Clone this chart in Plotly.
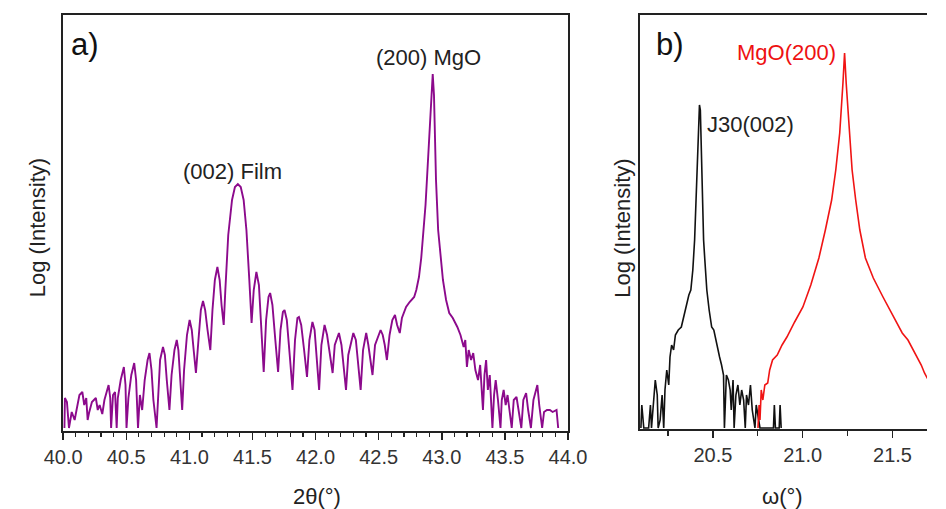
import plotly.graph_objects as go

# ---------------- data ----------------
# panel a) 2theta scan, log intensity in arbitrary units
two_theta = [
    40.010, 40.014, 40.030, 40.046, 40.068, 40.091, 40.106, 40.129, 40.152, 40.167,
    40.183, 40.194, 40.205, 40.228, 40.259, 40.274, 40.289, 40.310, 40.327, 40.346,
    40.360, 40.373, 40.380, 40.395, 40.411, 40.424, 40.433, 40.456, 40.481, 40.494,
    40.502, 40.517, 40.540, 40.563, 40.578, 40.593, 40.608, 40.626, 40.646, 40.669,
    40.684, 40.700, 40.715, 40.740, 40.753, 40.768, 40.791, 40.806, 40.821, 40.842,
    40.859, 40.882, 40.900, 40.913, 40.928, 40.943, 40.958, 40.981, 41.002, 41.019,
    41.034, 41.052, 41.072, 41.091, 41.108, 41.125, 41.144, 41.166, 41.183, 41.202,
    41.222, 41.240, 41.255, 41.272, 41.285, 41.308, 41.338, 41.361, 41.384, 41.407,
    41.430, 41.452, 41.475, 41.493, 41.510, 41.531, 41.551, 41.570, 41.589, 41.608,
    41.627, 41.640, 41.658, 41.681, 41.703, 41.722, 41.741, 41.754, 41.772, 41.795,
    41.817, 41.837, 41.856, 41.868, 41.886, 41.909, 41.932, 41.951, 41.975, 41.992,
    42.011, 42.028, 42.046, 42.071, 42.091, 42.114, 42.135, 42.152, 42.185, 42.205,
    42.224, 42.241, 42.259, 42.299, 42.319, 42.338, 42.357, 42.376, 42.401, 42.418,
    42.433, 42.451, 42.471, 42.515, 42.532, 42.548, 42.565, 42.586, 42.608, 42.629,
    42.646, 42.667, 42.684, 42.717, 42.745, 42.781, 42.798, 42.819, 42.837, 42.857,
    42.871, 42.882, 42.894, 42.905, 42.916, 42.928, 42.938, 42.945, 42.954, 42.971,
    42.989, 43.009, 43.034, 43.059, 43.087, 43.123, 43.148, 43.173, 43.186, 43.199,
    43.213, 43.232, 43.249, 43.266, 43.287, 43.304, 43.326, 43.338, 43.351, 43.365,
    43.380, 43.401, 43.414, 43.427, 43.445, 43.465, 43.475, 43.490, 43.506, 43.521,
    43.536, 43.554, 43.570, 43.592, 43.608, 43.630, 43.646, 43.668, 43.684, 43.706,
    43.726, 43.757, 43.772, 43.795, 43.810, 43.833, 43.856, 43.878, 43.909, 43.922,
]
log_i_film = [
    0.03, 0.33, 0.29, 0.03, 0.19, 0.11, 0.21, 0.36, 0.39, 0.26,
    0.33, 0.11, 0.18, 0.29, 0.33, 0.21, 0.26, 0.17, 0.31, 0.39,
    0.46, 0.33, 0.03, 0.36, 0.39, 0.03, 0.33, 0.51, 0.64, 0.46,
    0.03, 0.33, 0.56, 0.68, 0.51, 0.03, 0.36, 0.21, 0.51, 0.71,
    0.78, 0.61, 0.31, 0.03, 0.41, 0.71, 0.84, 0.76, 0.51, 0.21,
    0.56, 0.81, 0.91, 0.81, 0.51, 0.21, 0.61, 0.96, 1.11, 1.01,
    0.81, 0.58, 0.91, 1.21, 1.30, 1.21, 1.01, 0.81, 1.21, 1.51,
    1.64, 1.51, 1.26, 1.06, 1.41, 1.96, 2.31, 2.44, 2.47, 2.44,
    2.31, 2.01, 1.51, 1.08, 1.41, 1.59, 1.46, 1.01, 0.59, 1.11,
    1.34, 1.38, 1.26, 0.91, 0.59, 1.01, 1.19, 1.21, 1.11, 0.76,
    0.41, 0.91, 1.13, 1.14, 1.06, 0.81, 0.54, 0.91, 1.09, 1.01,
    0.71, 0.41, 0.86, 1.06, 0.96, 0.76, 0.58, 0.86, 0.98, 0.86,
    0.61, 0.41, 0.76, 0.98, 0.91, 0.66, 0.41, 0.81, 0.98, 0.86,
    0.71, 0.56, 0.86, 1.01, 0.96, 0.86, 0.71, 0.96, 1.11, 1.16,
    1.06, 0.98, 1.13, 1.24, 1.29, 1.34, 1.41, 1.54, 1.73, 2.01,
    2.26, 2.51, 2.81, 3.11, 3.36, 3.57, 3.36, 3.01, 2.51, 2.01,
    1.73, 1.51, 1.31, 1.18, 1.13, 1.04, 0.96, 0.84, 0.91, 0.64,
    0.81, 0.71, 0.78, 0.61, 0.51, 0.66, 0.21, 0.56, 0.71, 0.41,
    0.56, 0.03, 0.36, 0.51, 0.31, 0.03, 0.31, 0.41, 0.26, 0.36,
    0.21, 0.03, 0.31, 0.34, 0.21, 0.03, 0.31, 0.38, 0.21, 0.03,
    0.31, 0.46, 0.26, 0.03, 0.19, 0.21, 0.21, 0.19, 0.21, 0.03,
]

# panel b) rocking curves (omega scans)
omega_j30 = [
    20.099, 20.104, 20.115, 20.142, 20.152, 20.158, 20.179, 20.190, 20.195, 20.206,
    20.217, 20.226, 20.233, 20.243, 20.254, 20.261, 20.270, 20.281, 20.291, 20.307,
    20.324, 20.340, 20.356, 20.366, 20.377, 20.388, 20.398, 20.409, 20.420, 20.425,
    20.430, 20.436, 20.441, 20.448, 20.455, 20.466, 20.479, 20.493, 20.505, 20.516,
    20.527, 20.537, 20.548, 20.559, 20.564, 20.575, 20.586, 20.596, 20.602, 20.612,
    20.618, 20.628, 20.639, 20.650, 20.660, 20.671, 20.680, 20.687, 20.698, 20.709,
    20.719, 20.734, 20.741, 20.751, 20.762, 20.837, 20.842, 20.848, 20.869, 20.874,
    20.880,
]
log_i_j30 = [
    0.01, 0.24, 0.01, 0.01, 0.24, 0.01, 0.49, 0.34, 0.01, 0.09,
    0.34, 0.01, 0.39, 0.59, 0.44, 0.72, 0.84, 0.79, 0.94, 0.99,
    1.02, 1.14, 1.24, 1.34, 1.39, 1.59, 1.89, 2.49, 2.99, 3.24,
    3.19, 2.79, 2.29, 1.89, 1.69, 1.39, 1.19, 1.02, 0.99, 0.89,
    0.79, 0.72, 0.64, 0.54, 0.01, 0.54, 0.49, 0.39, 0.19, 0.49,
    0.01, 0.34, 0.44, 0.24, 0.39, 0.29, 0.01, 0.34, 0.24, 0.44,
    0.19, 0.01, 0.24, 0.14, 0.01, 0.01, 0.24, 0.01, 0.01, 0.24,
    0.01,
]
omega_mgo = [
    20.751, 20.757, 20.762, 20.769, 20.778, 20.789, 20.805, 20.816, 20.832, 20.858,
    20.885, 20.912, 20.955, 21.001, 21.045, 21.090, 21.126, 21.161, 21.184, 21.206,
    21.224, 21.233, 21.242, 21.259, 21.275, 21.295, 21.318, 21.349, 21.393, 21.447,
    21.500, 21.554, 21.586, 21.625, 21.660, 21.678, 21.714,
]
log_i_mgo = [
    0.01, 0.24, 0.09, 0.39, 0.29, 0.44, 0.46, 0.59, 0.69, 0.74,
    0.84, 0.92, 1.07, 1.22, 1.44, 1.71, 1.99, 2.29, 2.59, 2.96,
    3.46, 3.76, 3.46, 2.96, 2.59, 2.29, 1.99, 1.71, 1.51, 1.32,
    1.14, 0.96, 0.89, 0.76, 0.64, 0.56, 0.44,
]

ticks_a = [40.0, 40.5, 41.0, 41.5, 42.0, 42.5, 43.0, 43.5, 44.0]
ticks_b = [20.5, 21.0, 21.5]

FONT = "Liberation Sans, Arial, sans-serif"
AX = "#222222"
TXT = "#333333"

fig = go.Figure()
fig.add_trace(go.Scatter(x=two_theta, y=log_i_film, mode="lines",
                         line=dict(color="#8c0a8c", width=1.9),
                         xaxis="x", yaxis="y", showlegend=False))
fig.add_trace(go.Scatter(x=omega_j30, y=log_i_j30, mode="lines",
                         line=dict(color="#111111", width=1.6),
                         xaxis="x2", yaxis="y2", showlegend=False))
fig.add_trace(go.Scatter(x=omega_mgo, y=log_i_mgo, mode="lines",
                         line=dict(color="#f01414", width=1.6),
                         xaxis="x2", yaxis="y2", showlegend=False))

W, H = 946, 509
dom_a_x = [46 / W, 572 / W]
dom_b_x = [647 / W, 1.0]
dom_y_a = [1 - 431 / H, 1 - 15 / H]
dom_y_b = [1 - 429 / H, 1 - 15 / H]

common_x = dict(showline=True, linecolor=AX, linewidth=2, showgrid=False, zeroline=False,
                ticks="outside", ticklen=7, tickwidth=1.5, tickcolor=AX,
                tickfont=dict(family=FONT, size=20, color=TXT), tickformat=".1f")
common_y = dict(showline=True, linecolor=AX, linewidth=2, showgrid=False, zeroline=False,
                showticklabels=False, ticks="")

fig.update_layout(
    width=W, height=H, margin=dict(l=0, r=0, t=0, b=0),
    paper_bgcolor="white", plot_bgcolor="white",
    xaxis=dict(domain=dom_a_x, range=[40.0, 44.0], tickvals=ticks_a, mirror=True, anchor="y",
               minor=dict(dtick=0.1, tick0=40.0, ticks="outside", ticklen=4, tickcolor=AX, tickwidth=1.2),
               **common_x),
    yaxis=dict(domain=dom_y_a, range=[0, 4.16], mirror=True, anchor="x", **common_y),
    xaxis2=dict(domain=dom_b_x, range=[20.094, 21.692], tickvals=ticks_b, mirror=True, anchor="y2",
                minor=dict(dtick=0.25, tick0=20.0, ticks="outside", ticklen=5, tickcolor=AX, tickwidth=1.2),
                **common_x),
    yaxis2=dict(domain=dom_y_b, range=[0, 4.14], mirror=False, anchor="x2", **common_y),
)

ann_font = dict(family=FONT, size=22, color="#222222")
fig.add_annotation(x=40.046, y=3.86, xref="x", yref="y", text="a)", showarrow=False,
                   xanchor="left", yanchor="middle", font=dict(family=FONT, size=31, color="#111111"))
fig.add_annotation(x=42.897, y=3.73, xref="x", yref="y", text="(200) MgO", showarrow=False,
                   xanchor="center", yanchor="middle", font=ann_font)
fig.add_annotation(x=41.338, y=2.60, xref="x", yref="y", text="(002) Film", showarrow=False,
                   xanchor="center", yanchor="middle", font=ann_font)
fig.add_annotation(x=20.174, y=3.84, xref="x2", yref="y2", text="b)", showarrow=False,
                   xanchor="left", yanchor="middle", font=dict(family=FONT, size=31, color="#111111"))
fig.add_annotation(x=20.457, y=3.04, xref="x2", yref="y2", text="J30(002)", showarrow=False,
                   xanchor="left", yanchor="middle", font=ann_font)
fig.add_annotation(x=21.195, y=3.76, xref="x2", yref="y2", text="MgO(200)", showarrow=False,
                   xanchor="right", yanchor="middle", font=dict(family=FONT, size=22, color="#ee1111"))

# axis titles
fig.add_annotation(x=310 / W, y=1 - 496 / H, xref="paper", yref="paper", text="2θ(°)",
                   showarrow=False, xanchor="center", yanchor="middle",
                   font=dict(family=FONT, size=22, color="#222222"))
fig.add_annotation(x=795 / W, y=1 - 496 / H, xref="paper", yref="paper", text="ω(°)",
                   showarrow=False, xanchor="center", yanchor="middle",
                   font=dict(family=FONT, size=22, color="#222222"))
fig.add_annotation(x=19 / W, y=1 - 228 / H, xref="paper", yref="paper", text="Log (Intensity)",
                   showarrow=False, textangle=-90, xanchor="center", yanchor="middle",
                   font=dict(family=FONT, size=22, color="#222222"))
fig.add_annotation(x=628 / W, y=1 - 228 / H, xref="paper", yref="paper", text="Log (Intensity)",
                   showarrow=False, textangle=-90, xanchor="center", yanchor="middle",
                   font=dict(family=FONT, size=22, color="#222222"))

fig.write_html("out.html",
               config={"displayModeBar": False, "staticPlot": True},
               post_script="document.body.style.margin='0px';document.body.style.overflow='hidden';")
